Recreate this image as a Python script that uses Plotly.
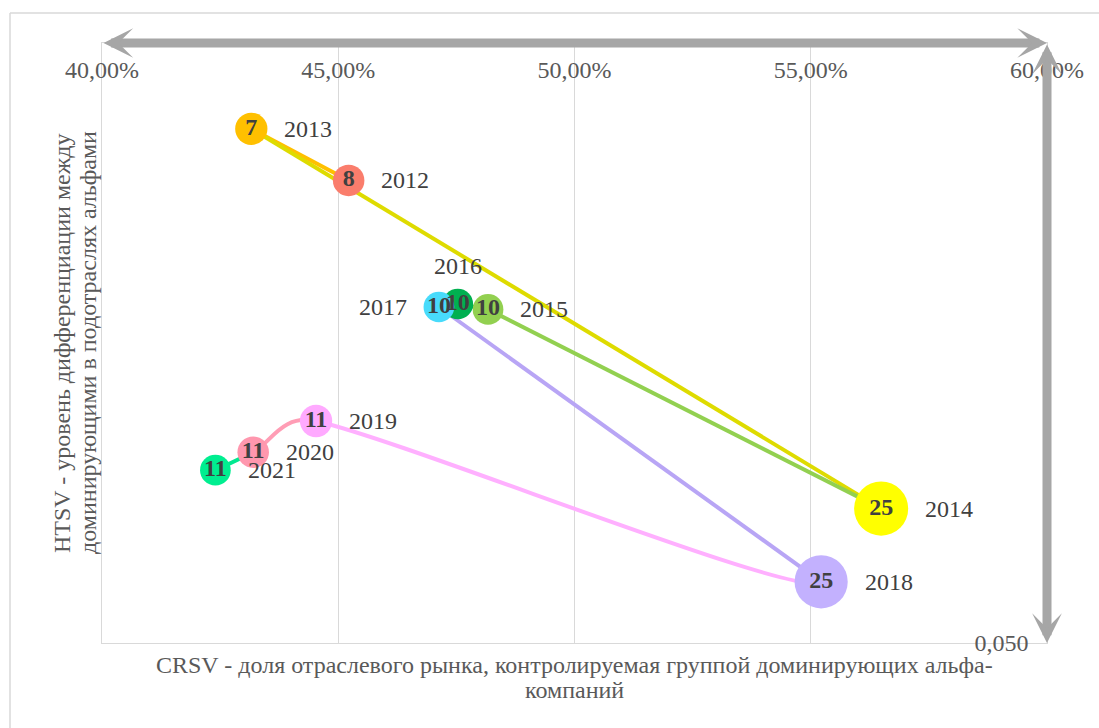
import math
import plotly.graph_objects as go

# ---------------- data ----------------
years = ["2012", "2013", "2014", "2015", "2016", "2017", "2018", "2019", "2020", "2021"]
crsv = [0.4522, 0.4316, 0.5649, 0.4817, 0.4753, 0.4713, 0.5522, 0.4453, 0.4320, 0.4240]
htsv = [0.1271, 0.1357, 0.0724, 0.1056, 0.1065, 0.1060, 0.0602, 0.0870, 0.0818, 0.0788]
alpha_count = [8, 7, 25, 10, 10, 10, 25, 11, 11, 11]
bubble_size = [1.0, 1.05, 2.95, 0.95, 0.95, 0.95, 2.85, 1.05, 1.0, 0.95]
x_ticks = [0.40, 0.45, 0.50, 0.55, 0.60]
y_ticks = [0.05]
x_title = ["CRSV - доля отраслевого рынка, контролируемая группой доминирующих альфа-",
           "компаний"]
y_title = ["HTSV - уровень дифференциации между",
           "доминирующими в подотраслях альфами"]

# ---------------- style ----------------
W, H = 1099, 728
ML, MR, MT, MB = 102, 52, 43, 85
PW, PH = W - ML - MR, H - MT - MB
X_RANGE = [0.40, 0.60]
Y_RANGE = [0.05, 0.15]
FONT = "Times New Roman, Liberation Serif, serif"
FS = 24
TXT = "#404040"
AX_TXT = "#595959"
GRID = "#d9d9d9"
ARROW = "#a6a6a6"

marker_colors = ["#fa7d6c", "#ffc000", "#ffff00", "#92d050", "#00b050",
                 "#48dbfb", "#c3b1fe", "#ffaaff", "#ff97ae", "#00ee90"]
# colour of the segment that ends at point i
line_colors = [None, "#ffc000", "#dedb00", "#92d050", "#00b050",
               "#48dbfb", "#b8a5f5", "#ffb0ff", "#ff9db5", "#00e890"]
smoothed = [False, False, False, False, False, False, True, True, True]
label_side = ["right", "right", "right", "right", "top", "left",
              "right", "right", "right", "right"]
BASE_D = 31.5
LINE_W = 4
GAP = 15

diam = [BASE_D * math.sqrt(s) for s in bubble_size]

fig = go.Figure()

# ---- helpers for Excel-like smoothing (computed in pixel space) ----
sx = PW / (X_RANGE[1] - X_RANGE[0])
sy = PH / (Y_RANGE[1] - Y_RANGE[0])


def to_px(i):
    return ((crsv[i] - X_RANGE[0]) * sx, (htsv[i] - Y_RANGE[0]) * sy)


def to_data(p):
    return (p[0] / sx + X_RANGE[0], p[1] / sy + Y_RANGE[0])


def arm(pa, pb, seg_len):
    ax_, ay_ = (pb[0] - pa[0]) / 6.0, (pb[1] - pa[1]) / 6.0
    ln = math.hypot(ax_, ay_)
    cap = seg_len / 2.0
    if ln > cap and ln > 0:
        ax_, ay_ = ax_ * cap / ln, ay_ * cap / ln
    return ax_, ay_


n = len(years)
shapes = []
for i in range(n - 1):
    col = line_colors[i + 1]
    if not smoothed[i]:
        fig.add_trace(go.Scatter(x=[crsv[i], crsv[i + 1]], y=[htsv[i], htsv[i + 1]],
                                 mode="lines", line=dict(color=col, width=LINE_W),
                                 hoverinfo="skip", showlegend=False))
    else:
        p0 = to_px(max(i - 1, 0))
        p1 = to_px(i)
        p2 = to_px(i + 1)
        p3 = to_px(min(i + 2, n - 1))
        L = math.hypot(p2[0] - p1[0], p2[1] - p1[1])
        a1 = arm(p0, p2, L)
        a2 = arm(p1, p3, L)
        c1 = to_data((p1[0] + a1[0], p1[1] + a1[1]))
        c2 = to_data((p2[0] - a2[0], p2[1] - a2[1]))
        path = (f"M {crsv[i]},{htsv[i]} C {c1[0]},{c1[1]} {c2[0]},{c2[1]} "
                f"{crsv[i + 1]},{htsv[i + 1]}")
        shapes.append(dict(type="path", path=path, xref="x", yref="y",
                           line=dict(color=col, width=LINE_W), layer="between"))

# bubbles
fig.add_trace(go.Scatter(
    x=crsv, y=htsv, mode="markers+text",
    marker=dict(size=diam, sizemode="diameter", color=marker_colors,
                line=dict(width=0), opacity=1),
    text=[str(v) for v in alpha_count], textposition="middle center",
    textfont=dict(family=FONT, size=FS, color=TXT, weight="bold"),
    hoverinfo="skip", showlegend=False, cliponaxis=False))

annotations = []
# year labels
for i in range(n):
    r = diam[i] / 2.0
    a = dict(x=crsv[i], y=htsv[i], xref="x", yref="y", text=years[i],
             showarrow=False, font=dict(family=FONT, size=FS, color=TXT))
    if label_side[i] == "right":
        a.update(xanchor="left", yanchor="middle", xshift=r + GAP)
    elif label_side[i] == "left":
        a.update(xanchor="right", yanchor="middle", xshift=-(r + GAP))
    else:
        a.update(xanchor="center", yanchor="bottom", yshift=r + 8)
    annotations.append(a)

# axis titles (manual, line by line)
annotations.append(dict(x=0.5, y=0, xref="paper", yref="paper", text=x_title[0],
                        showarrow=False, xanchor="center", yanchor="middle", yshift=-22,
                        font=dict(family=FONT, size=FS, color=AX_TXT)))
annotations.append(dict(x=0.5, y=0, xref="paper", yref="paper", text=x_title[1],
                        showarrow=False, xanchor="center", yanchor="middle", yshift=-47,
                        font=dict(family=FONT, size=FS, color=AX_TXT)))
annotations.append(dict(x=0, y=0.5, xref="paper", yref="paper", text=y_title[0],
                        showarrow=False, xanchor="center", yanchor="middle", xshift=-40,
                        textangle=-90, font=dict(family=FONT, size=FS, color=AX_TXT)))
annotations.append(dict(x=0, y=0.5, xref="paper", yref="paper", text=y_title[1],
                        showarrow=False, xanchor="center", yanchor="middle", xshift=-14,
                        textangle=-90, font=dict(family=FONT, size=FS, color=AX_TXT)))

# axis arrows
arrow_common = dict(text="", showarrow=True, arrowcolor=ARROW, arrowwidth=9,
                    arrowhead=3, arrowsize=0.55, startarrowhead=3, startarrowsize=0.55,
                    arrowside="end+start", xref="x domain", yref="y domain",
                    axref="x domain", ayref="y domain", standoff=0, startstandoff=0)
annotations.append(dict(x=1, y=1, ax=0, ay=1, **arrow_common))
annotations.append(dict(x=1, y=0, ax=1, ay=1, **arrow_common))

# outer chart border (clipped by the page on the right and bottom)
bx = (10 - ML) / PW
by = (H - MB - 13) / PH
shapes.append(dict(type="line", xref="paper", yref="paper", x0=bx, x1=1.2, y0=by, y1=by,
                   line=dict(color=GRID, width=1.5), layer="below"))
shapes.append(dict(type="line", xref="paper", yref="paper", x0=bx, x1=bx, y0=-0.3, y1=by,
                   line=dict(color=GRID, width=1.5), layer="below"))

fig.update_layout(
    width=W, height=H,
    margin=dict(l=ML, r=MR, t=MT, b=MB, pad=0),
    paper_bgcolor="white", plot_bgcolor="white",
    separators=", ",
    font=dict(family=FONT, size=FS, color=AX_TXT),
    showlegend=False,
    shapes=shapes, annotations=annotations,
    xaxis=dict(range=X_RANGE, side="top", tickvals=x_ticks, tickformat=".2%",
               ticklabelposition="inside", ticklabelstandoff=20, ticklabeloverflow="allow",
               showgrid=True, gridcolor=GRID, gridwidth=1.4, zeroline=False,
               showline=True, linecolor=GRID, linewidth=1.4, mirror=True,
               ticks="", tickfont=dict(family=FONT, size=FS, color=AX_TXT)),
    yaxis=dict(range=Y_RANGE, side="right", tickvals=y_ticks, tickformat=".3f",
               ticklabelposition="inside", ticklabelstandoff=20, ticklabeloverflow="allow",
               showgrid=True, gridcolor=GRID, gridwidth=1.4, zeroline=False,
               showline=True, linecolor=GRID, linewidth=1.4, mirror=True,
               ticks="", tickfont=dict(family=FONT, size=FS, color=AX_TXT)),
)

fig.write_html("out.html", include_plotlyjs=True, full_html=True,
               config={"displayModeBar": False},
               post_script="document.body.style.margin='0px';")
